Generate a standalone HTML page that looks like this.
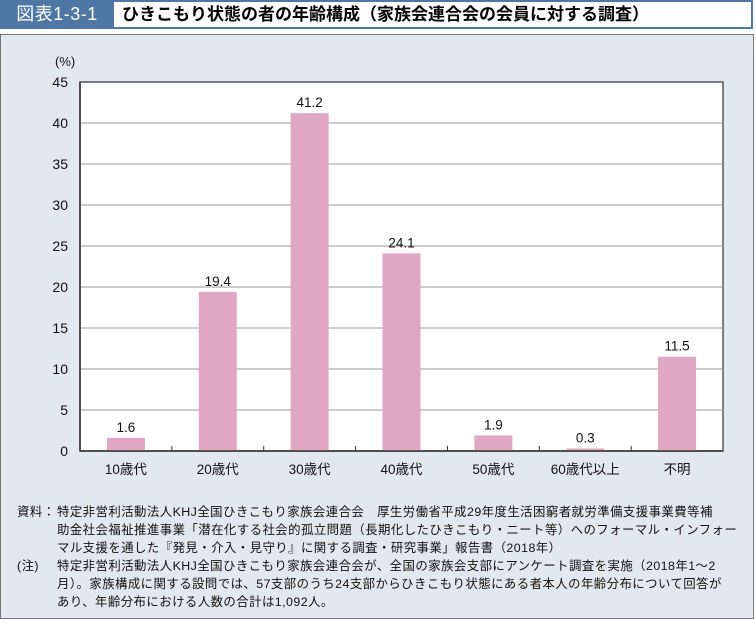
<!DOCTYPE html>
<html><head><meta charset="utf-8">
<style>
body{margin:0;width:756px;height:619px;background:#fff;position:relative;overflow:hidden;font-family:"Liberation Sans","Noto Sans CJK JP",sans-serif;}
#hdr-num{position:absolute;left:0;top:0;width:114px;height:29px;background:#4f77a6;color:#fff;font-size:18px;line-height:29px;text-align:center;letter-spacing:0.5px;}
#hdr-title{position:absolute;left:114px;top:0;width:629px;height:25px;border:2px solid #4f77a6;border-left:none;background:#fff;font-size:17px;font-weight:bold;line-height:25px;padding-left:8px;box-sizing:content-box;}
#frame{position:absolute;left:0;top:34px;width:752px;height:583px;background:#e2e8ef;border:1px solid #777;}
.note{position:absolute;font-size:12.4px;white-space:nowrap;color:#111;letter-spacing:0.45px;}
</style></head><body>
<div id="hdr-num">図表1-3-1</div>
<div id="hdr-title">ひきこもり状態の者の年齢構成（家族会連合会の会員に対する調査）</div>
<div id="frame"></div>
<svg id="chart" width="756" height="619" style="position:absolute;left:0;top:0" font-family="Liberation Sans, Noto Sans CJK JP, sans-serif"></svg>
<div class="note" style="left:17px;top:502px">資料：</div>
<div class="note" style="left:57px;top:502px">特定非営利活動法人KHJ全国ひきこもり家族会連合会　厚生労働省平成29年度生活困窮者就労準備支援事業費等補</div>
<div class="note" style="left:57px;top:520px">助金社会福祉推進事業「潜在化する社会的孤立問題（長期化したひきこもり・ニート等）へのフォーマル・インフォー</div>
<div class="note" style="left:57px;top:538px">マル支援を通した『発見・介入・見守り』に関する調査・研究事業」報告書（2018年）</div>
<div class="note" style="left:17px;top:556px">(注)</div>
<div class="note" style="left:57px;top:556px">特定非営利活動法人KHJ全国ひきこもり家族会連合会が、全国の家族会支部にアンケート調査を実施（2018年1〜2</div>
<div class="note" style="left:57px;top:574px">月）。家族構成に関する設問では、57支部のうち24支部からひきこもり状態にある者本人の年齢分布について回答が</div>
<div class="note" style="left:57px;top:592px">あり、年齢分布における人数の合計は1,092人。</div>
<script>
const categories=["10歳代","20歳代","30歳代","40歳代","50歳代","60歳代以上","不明"];
const values=[1.6,19.4,41.2,24.1,1.9,0.3,11.5];
const valueLabels=["1.6","19.4","41.2","24.1","1.9","0.3","11.5"];
const yTicks=[0,5,10,15,20,25,30,35,40,45];
const svg=document.getElementById('chart');
const NS='http://www.w3.org/2000/svg';
const L=80,R=723,T=82,B=451,YMAX=45;
const y=v=>B-(v/YMAX)*(B-T);
const bw=(R-L)/categories.length;
const x=i=>L+bw*i+bw/2;
function mk(t,a){const e=document.createElementNS(NS,t);for(const k in a)e.setAttribute(k,a[k]);svg.appendChild(e);return e;}
let p=mk('rect',{x:L,y:T,width:R-L,height:B-T,fill:'#fff',stroke:'#555','stroke-width':1.5});


yTicks.forEach(v=>{
  if(v>0&&v<YMAX){const g=mk('line',{x1:L,x2:R,y1:y(v),y2:y(v),stroke:'#999','stroke-width':1});
  
  }
  const t=mk('text',{x:L-12,y:y(v)+5,'text-anchor':'end','font-size':14,fill:'#111'});
  t.textContent=v;
  
  
});
const u=mk('text',{x:55,y:66,'font-size':13,fill:'#111'});u.textContent='(%)';


values.forEach((v,i)=>{
  const r=mk('rect',{x:x(i)-19,y:y(v),width:38,height:B-y(v),fill:'#dfa7c1'});
  
  
  const t=mk('text',{x:x(i),y:y(v)-6,'text-anchor':'middle','font-size':13.5,fill:'#111'});
  t.textContent=valueLabels[i];
  
  
  const c=mk('text',{x:x(i),y:B+23,'text-anchor':'middle','font-size':13.5,fill:'#111'});
  c.textContent=categories[i];
  
  
  if(i>0){const tk=mk('line',{x1:L+bw*i,x2:L+bw*i,y1:B,y2:B-5,stroke:'#333'});
  
  }
});
const ax=mk('line',{x1:L,x2:R,y1:B,y2:B,stroke:'#333','stroke-width':1.5});


const ay=mk('line',{x1:L,x2:L,y1:T,y2:B,stroke:'#333','stroke-width':1.5});


</script>
</body></html>
